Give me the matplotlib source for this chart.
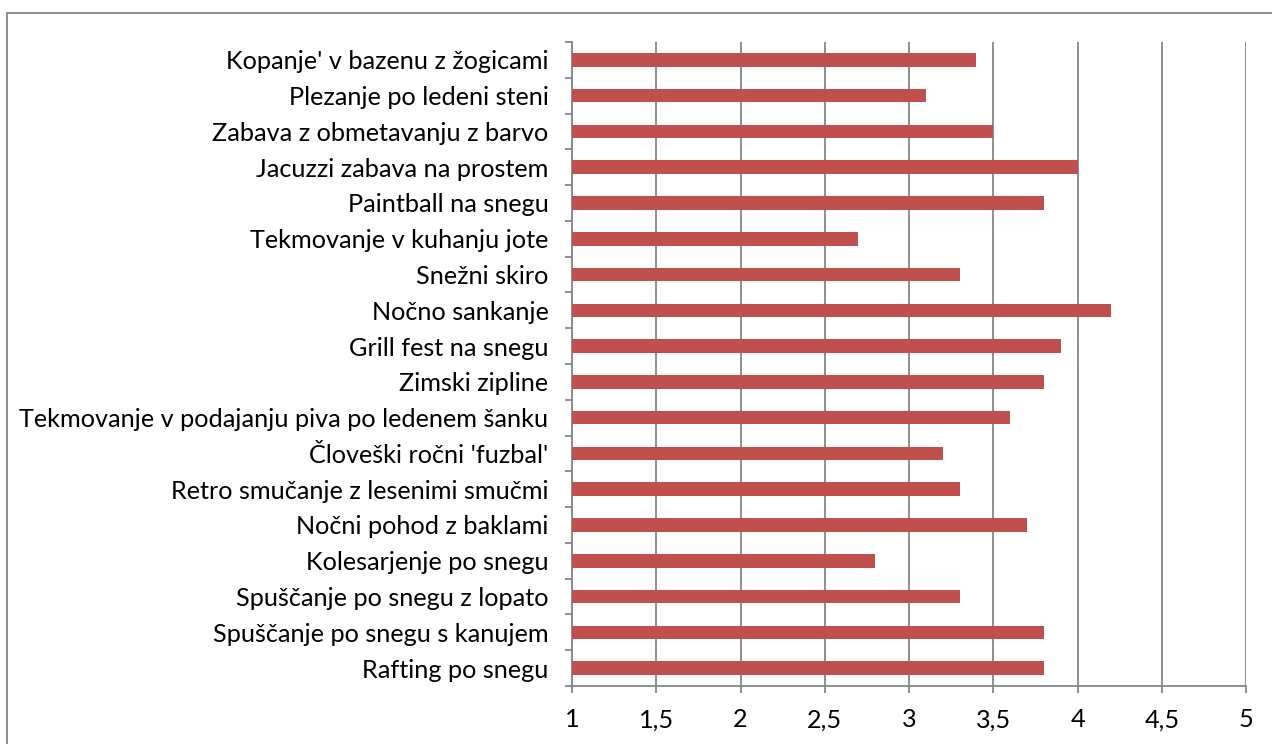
import matplotlib.pyplot as plt
from matplotlib.patches import Rectangle
from matplotlib.ticker import FuncFormatter

categories = [
    "Kopanje' v bazenu z žogicami",
    "Plezanje po ledeni steni",
    "Zabava z obmetavanju z barvo",
    "Jacuzzi zabava na prostem",
    "Paintball na snegu",
    "Tekmovanje v kuhanju jote",
    "Snežni skiro",
    "Nočno sankanje",
    "Grill fest na snegu",
    "Zimski zipline",
    "Tekmovanje v podajanju piva po ledenem šanku",
    "Človeški ročni 'fuzbal'",
    "Retro smučanje z lesenimi smučmi",
    "Nočni pohod z baklami",
    "Kolesarjenje po snegu",
    "Spuščanje po snegu z lopato",
    "Spuščanje po snegu s kanujem",
    "Rafting po snegu",
]
values = [3.4, 3.1, 3.5, 4.0, 3.8, 2.7, 3.3, 4.2, 3.9, 3.8,
          3.6, 3.2, 3.3, 3.7, 2.8, 3.3, 3.8, 3.8]
x_ticks = [1, 1.5, 2, 2.5, 3, 3.5, 4, 4.5, 5]

W, H = 1272, 744
plt.rcParams['font.family'] = ['Lato', 'DejaVu Sans']
fig = plt.figure(figsize=(W / 100, H / 100), dpi=100)

left, right, top, bottom = 572, 1246, 42, 686
ax = fig.add_axes([left / W, 1 - bottom / H, (right - left) / W, (bottom - top) / H])

n = len(categories)
ypos = list(range(n))[::-1]
ax.barh(ypos, values, left=0, height=0.38, color='#C0504D', zorder=3)

ax.set_xlim(1, 5)
ax.set_ylim(-0.5, n - 0.5)
ax.set_xticks(x_ticks)
ax.xaxis.set_major_formatter(FuncFormatter(lambda v, p: f"{v:g}".replace('.', ',')))
ax.grid(axis='x', color='#868686', linewidth=1.3, zorder=1)

ax.set_yticks(ypos)
ax.set_yticklabels(categories)
ax.set_yticks([i - 0.5 for i in range(n + 1)], minor=True)
ax.tick_params(axis='y', which='major', length=0, pad=17, labelsize=18.2)
ax.tick_params(axis='y', which='minor', length=5, color='#868686', width=1.3)
ax.tick_params(axis='x', length=5, color='#868686', width=1.3, pad=11, labelsize=18.2)

for side in ['top', 'right']:
    ax.spines[side].set_visible(False)
for side in ['left', 'bottom']:
    ax.spines[side].set_color('#868686')
    ax.spines[side].set_linewidth(1.3)

fig.patches.append(Rectangle((7 / W, -0.1), 1.2, 1 - 13 / H + 0.1,
                             transform=fig.transFigure, fill=False,
                             edgecolor='#868686', linewidth=1.3))

fig.savefig('out.png', dpi=100)
